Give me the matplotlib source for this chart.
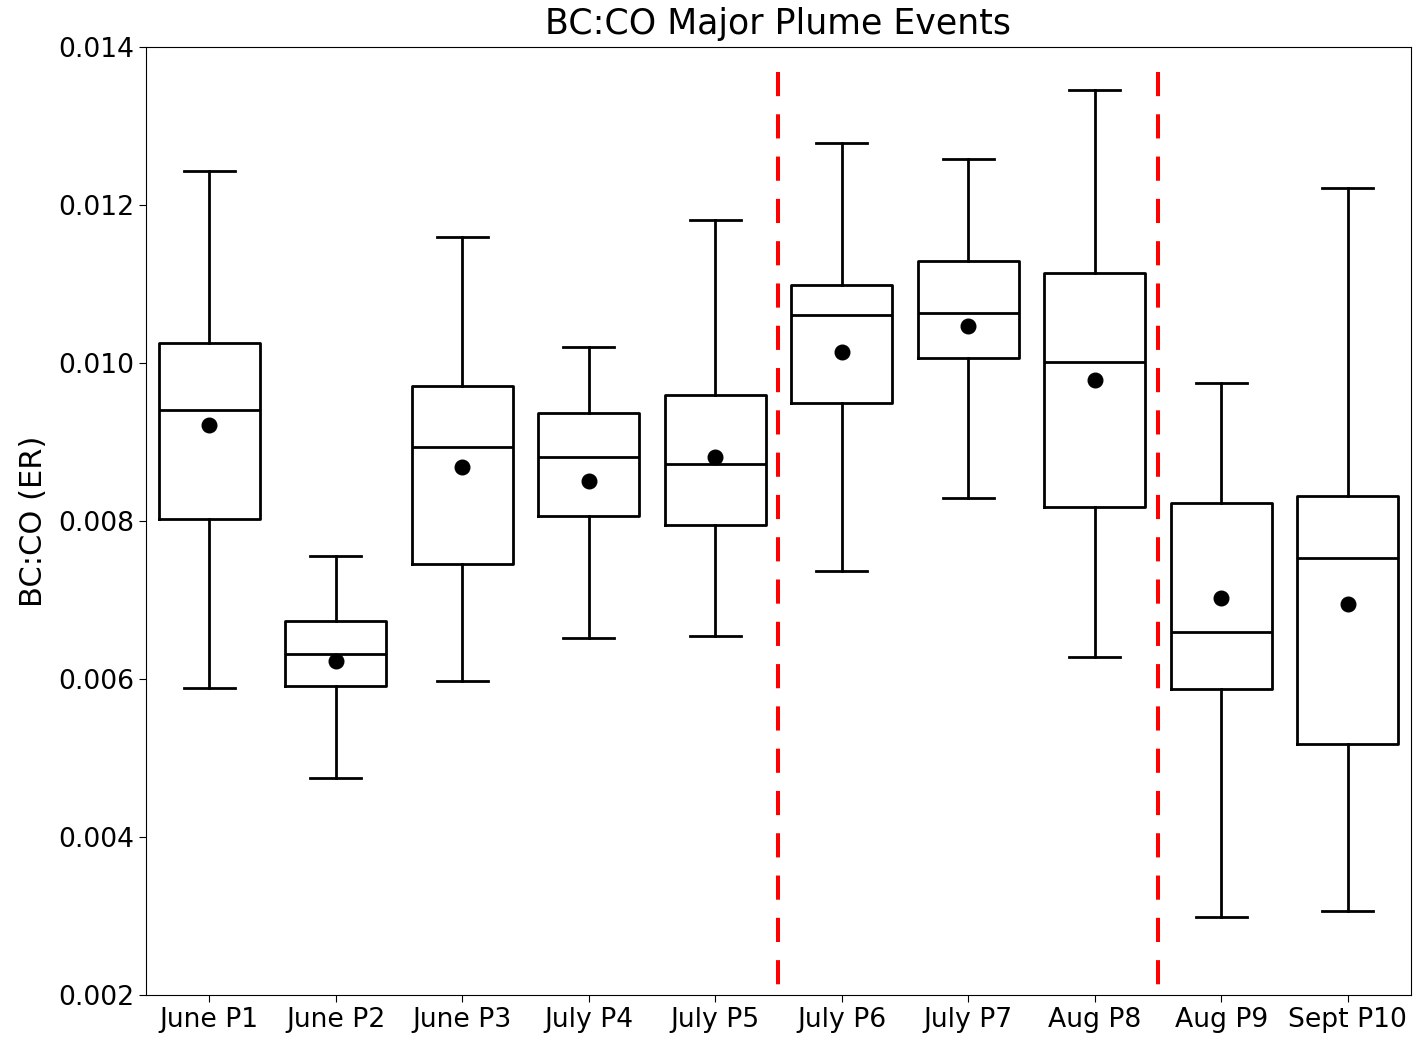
import matplotlib
matplotlib.use("Agg")
import matplotlib.pyplot as plt

# --- data ---
labels = ["June P1", "June P2", "June P3", "July P4", "July P5",
          "July P6", "July P7", "Aug P8", "Aug P9", "Sept P10"]
whisker_lo = [0.00589, 0.00475, 0.00597, 0.00652, 0.00654,
              0.00737, 0.00829, 0.00628, 0.00299, 0.00306]
q1 = [0.00803, 0.00591, 0.00746, 0.00806, 0.00795,
      0.00949, 0.01006, 0.00818, 0.00587, 0.00518]
medians = [0.00941, 0.00632, 0.00894, 0.00881, 0.00872,
           0.01061, 0.01063, 0.01001, 0.00659, 0.00753]
q3 = [0.01025, 0.00673, 0.00971, 0.00937, 0.00960,
      0.01099, 0.01129, 0.01114, 0.00823, 0.00832]
whisker_hi = [0.01243, 0.00756, 0.01160, 0.01020, 0.01181,
              0.01278, 0.01258, 0.01346, 0.00975, 0.01222]
means = [0.00922, 0.00623, 0.00868, 0.00851, 0.00881,
         0.01014, 0.01047, 0.00978, 0.00703, 0.00695]
divider_x = [5.5, 8.5]

stats = []
for i, lab in enumerate(labels):
    stats.append({
        "label": lab,
        "whislo": whisker_lo[i],
        "q1": q1[i],
        "med": medians[i],
        "q3": q3[i],
        "whishi": whisker_hi[i],
        "mean": means[i],
        "fliers": [],
    })

fig = plt.figure(figsize=(14.13, 10.37), dpi=100)
ax = fig.add_axes([0.1033, 0.0405, 0.8953, 0.9142])

line = dict(color="black", linewidth=2)
ax.bxp(stats, positions=range(1, len(labels) + 1), widths=0.8,
       showmeans=True, showfliers=False,
       boxprops=line, whiskerprops=line, capprops=line, medianprops=line,
       meanprops=dict(marker="o", markerfacecolor="black",
                      markeredgecolor="black", markersize=10.5))

# red dashed dividers between campaign periods
for x in divider_x:
    ax.plot([x, x], [0.01368, 0.00196], color="red", linewidth=2.9,
            linestyle=(0, (6, 4.5)), clip_on=False, zorder=3)

ax.set_xlim(0.5, 10.5)
ax.set_ylim(0.002, 0.014)
ax.set_yticks([0.002, 0.004, 0.006, 0.008, 0.010, 0.012, 0.014])
ax.set_yticklabels([f"{v:.3f}" for v in ax.get_yticks()])
ax.tick_params(labelsize=19.2, length=5)
ax.set_ylabel("BC:CO (ER)", fontsize=22, labelpad=7)
ax.set_title("BC:CO Major Plume Events", fontsize=25, pad=9)

fig.savefig("out.png", dpi=100)
